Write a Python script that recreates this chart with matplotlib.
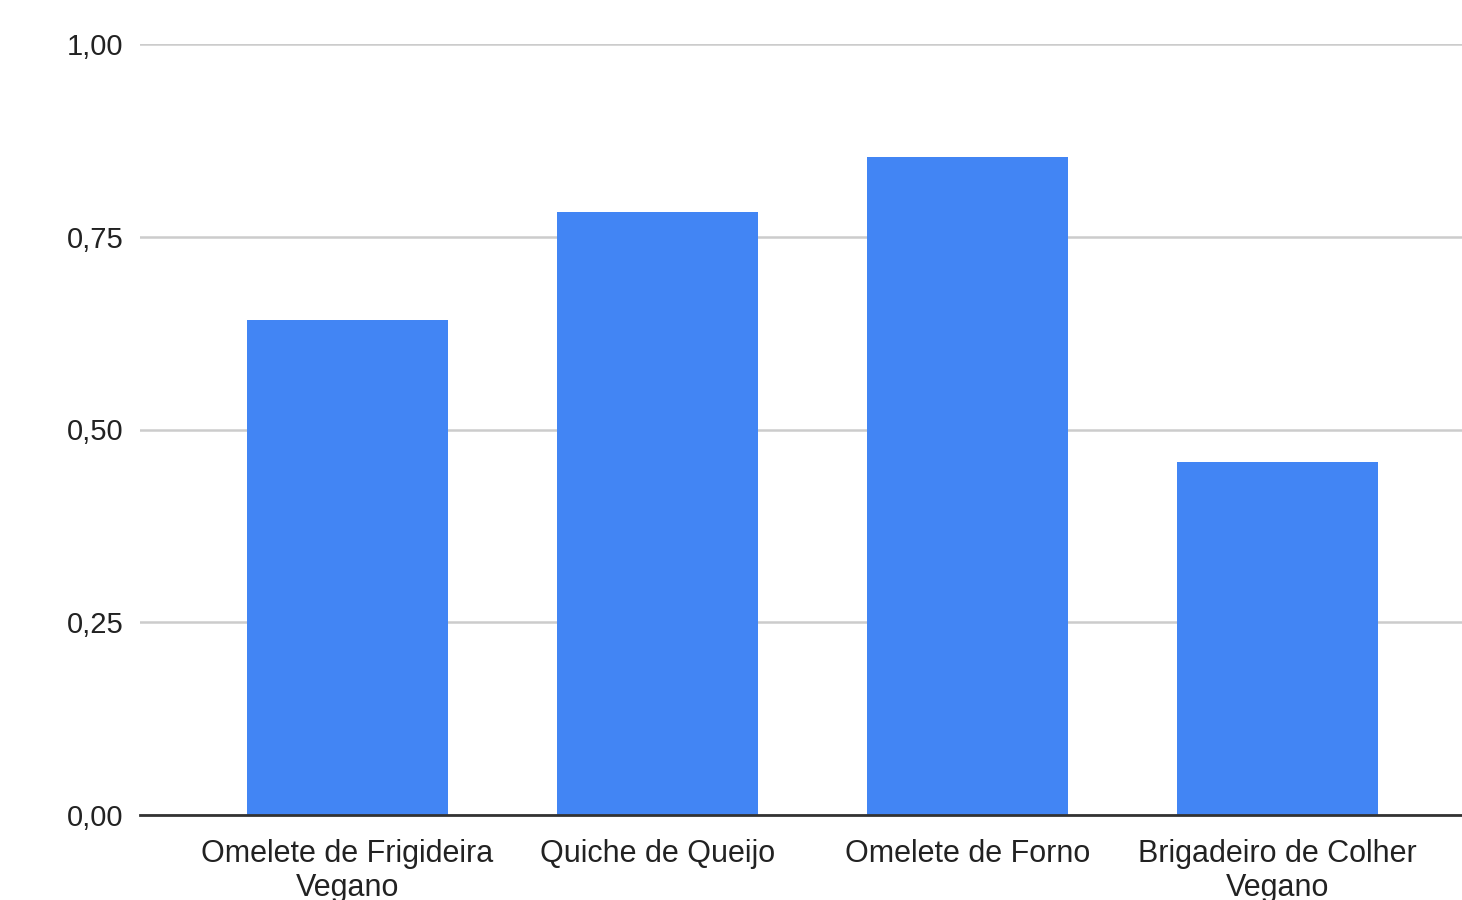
import matplotlib.pyplot as plt
from matplotlib.ticker import FixedLocator, FuncFormatter

categories = ["Omelete de Frigideira\nVegano", "Quiche de Queijo",
              "Omelete de Forno", "Brigadeiro de Colher\nVegano"]
values = [0.642, 0.782, 0.853, 0.458]
yticks = [0.0, 0.25, 0.5, 0.75, 1.0]

plt.rcParams['font.family'] = "sans-serif"
plt.rcParams['font.sans-serif'] = ["Liberation Sans", "DejaVu Sans"]
plt.rcParams['font.size'] = 22

fig = plt.figure(figsize=(14.62, 9), dpi=100)
ax = fig.add_axes([140/1462, 85/900, 1 - 140/1462, (815-44)/900])

x = list(range(len(categories)))
ax.bar(x, values, width=0.648, color="#4285F4", zorder=3)

ax.set_ylim(0, 1.0)
ax.set_xlim(-207.5/310, (1462-347.5)/310)
ax.yaxis.set_major_locator(FixedLocator(yticks))
ax.yaxis.set_major_formatter(FuncFormatter(lambda v, p: ("%.2f" % v).replace(".", ",")))
ax.set_xticks(x)
ax.set_xticklabels(categories, linespacing=1.2)

ax.grid(axis="y", color="#cccccc", linewidth=1.8, zorder=0)
for s in ["top", "right", "left"]:
    ax.spines[s].set_visible(False)
ax.spines["bottom"].set_color("#333333")
ax.spines["bottom"].set_linewidth(2)
ax.spines["bottom"].set_zorder(4)
ax.tick_params(axis="both", length=0, colors="#222222")
ax.tick_params(axis="y", pad=12, labelsize=21)
ax.tick_params(axis="x", pad=17)

fig.savefig("out.png", dpi=100)
